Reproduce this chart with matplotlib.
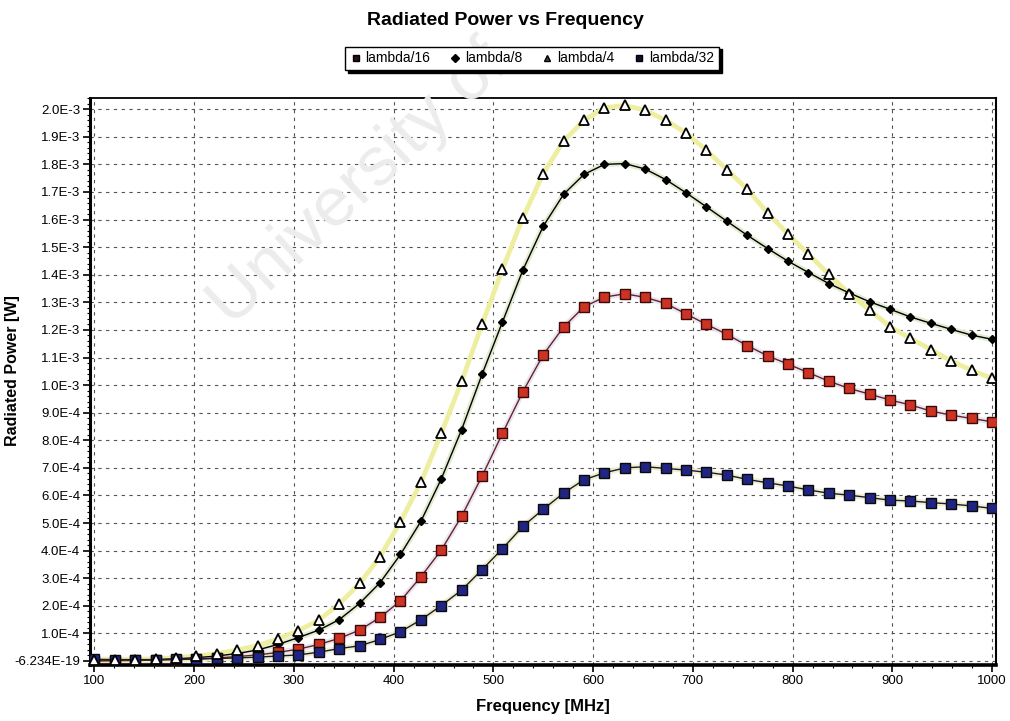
"""
radiated power vs frequency for short dipoles
"""
import numpy as np
import matplotlib
matplotlib.use("Agg")
import matplotlib.pyplot as plt
from matplotlib.lines import Line2D
from matplotlib.ticker import MultipleLocator, FuncFormatter

plt.rcParams['font.family'] = ['Liberation Sans', 'DejaVu Sans']

# 45 samples from 100 to 1000 MHz
freq = np.linspace(100, 1000, 45)

# radiated power, in units of 1E-4 W
lambda_4 = [0.02, 0.03, 0.05, 0.08, 0.12, 0.18, 0.27, 0.40, 0.56, 0.80,
            1.10, 1.48, 2.07, 2.81, 3.78, 5.05, 6.47, 8.25, 10.14, 12.20,
            14.20, 16.07, 17.67, 18.85, 19.60, 20.05, 20.14, 19.96, 19.60, 19.14,
            18.51, 17.81, 17.10, 16.24, 15.47, 14.75, 14.01, 13.32, 12.72, 12.11,
            11.69, 11.29, 10.87, 10.54, 10.24]
lambda_8 = [0.01, 0.02, 0.03, 0.05, 0.08, 0.12, 0.18, 0.27, 0.40, 0.60,
            0.85, 1.12, 1.50, 2.09, 2.84, 3.86, 5.06, 6.60, 8.39, 10.39,
            12.29, 14.17, 15.76, 16.92, 17.64, 18.00, 18.03, 17.83, 17.45, 16.97,
            16.46, 15.94, 15.43, 14.95, 14.49, 14.08, 13.68, 13.34, 13.02, 12.75,
            12.47, 12.24, 12.02, 11.81, 11.66]
lambda_16 = [0.01, 0.01, 0.02, 0.03, 0.05, 0.07, 0.11, 0.16, 0.22, 0.31,
             0.43, 0.60, 0.82, 1.12, 1.58, 2.18, 3.05, 4.02, 5.25, 6.70,
             8.25, 9.76, 11.10, 12.11, 12.84, 13.19, 13.31, 13.18, 12.96, 12.58,
             12.20, 11.84, 11.43, 11.06, 10.76, 10.45, 10.14, 9.88, 9.67, 9.46,
             9.28, 9.06, 8.91, 8.79, 8.67]
lambda_32 = [0.06, 0.05, 0.05, 0.05, 0.06, 0.07, 0.09, 0.11, 0.14, 0.18,
             0.22, 0.32, 0.45, 0.55, 0.78, 1.06, 1.49, 2.01, 2.57, 3.31,
             4.07, 4.88, 5.50, 6.09, 6.57, 6.82, 7.00, 7.04, 6.98, 6.92,
             6.84, 6.74, 6.58, 6.46, 6.34, 6.20, 6.08, 6.01, 5.92, 5.83,
             5.80, 5.74, 5.69, 5.62, 5.53]

labels = ['lambda/16', 'lambda/8', 'lambda/4', 'lambda/32']

scale = 1e-4


def y_label(v, pos):
    k = int(round(v / scale))
    if k == 0:
        return '-6.234E-19'
    if k >= 10:
        return '%.1fE-3' % (k / 10.0)
    return '%.1fE-4' % k


fig = plt.figure(figsize=(10.1, 7.21), dpi=100)
ax = fig.add_axes([0.0891, 0.0777, 0.8971, 0.7865])

# faint watermark behind everything
fig.text(0.355, 0.745, 'University of', fontsize=50, color='#ececec',
         rotation=43, ha='center', va='center', zorder=0)
ax.patch.set_alpha(0)

y4 = np.array(lambda_4) * scale
y8 = np.array(lambda_8) * scale
y16 = np.array(lambda_16) * scale
y32 = np.array(lambda_32) * scale

ax.plot(freq, y4, color='#eeeea0', lw=3.4, zorder=3)
ax.plot(freq, y4, ls='none', marker='^', ms=6.5, mfc='white', mec='black',
        mew=1.3, zorder=5)
ax.plot(freq, y8, color='#e2ecd0', lw=4, zorder=2)
ax.plot(freq, y8, color='black', lw=1.0, marker='D', ms=4.5, mfc='black',
        mec='black', zorder=4)
ax.plot(freq, y16, color='#e6e6f4', lw=4, zorder=2)
ax.plot(freq, y16, color='#6a2222', lw=1.0, marker='s', ms=7, mfc='#cc3322',
        mec='#3a0a0a', mew=1.0, zorder=4)
ax.plot(freq, y32, color='#f0f0c8', lw=4, zorder=2)
ax.plot(freq, y32, color='#1a1a40', lw=1.0, marker='s', ms=7, mfc='#1f2580',
        mec='#0a0a0a', mew=1.0, zorder=4)

ax.set_xlim(95.5, 1004)
ax.set_ylim(-1.45e-5, 2.041e-3)
ax.xaxis.set_major_locator(MultipleLocator(100))
ax.xaxis.set_minor_locator(MultipleLocator(20))
ax.yaxis.set_major_locator(MultipleLocator(scale))
ax.yaxis.set_minor_locator(MultipleLocator(scale / 5))
ax.yaxis.set_major_formatter(FuncFormatter(y_label))

ax.grid(True, which='major', color='#555555', lw=0.8, ls=(0, (3, 4)), zorder=1)
ax.tick_params(axis='both', which='major', direction='out', length=5,
               width=1.2, labelsize=9.5, pad=2)
ax.tick_params(axis='both', which='minor', direction='out', length=2.5,
               width=0.8)

ax.spines['left'].set_linewidth(2.2)
ax.spines['bottom'].set_linewidth(2.6)
ax.spines['top'].set_linewidth(1.3)
ax.spines['right'].set_linewidth(1.5)

ax.set_xlabel('Frequency [MHz]', fontsize=12, fontweight='bold', labelpad=9)
ax.set_ylabel('Radiated Power [W]', fontsize=11.5, fontweight='bold')
ax.yaxis.set_label_coords(-0.077, 0.52)
fig.suptitle('Radiated Power vs Frequency', fontsize=14, fontweight='bold',
             x=0.5, y=0.983)

handles = [
    Line2D([], [], ls='none', marker='s', ms=5, mfc='#2a1010', mec='black'),
    Line2D([], [], ls='none', marker='D', ms=4, mfc='black', mec='black'),
    Line2D([], [], ls='none', marker='^', ms=5, mfc='#444444', mec='black'),
    Line2D([], [], ls='none', marker='s', ms=5, mfc='#101030', mec='black'),
]
leg = fig.legend(handles, labels, loc='center', bbox_to_anchor=(0.527, 0.919),
                 ncol=4, fontsize=10, frameon=True, fancybox=False,
                 shadow={'color': 'black', 'alpha': 1}, handlelength=0.8,
                 handletextpad=0.3, columnspacing=1.4, borderpad=0.35,
                 edgecolor='black', framealpha=1)
leg.get_frame().set_linewidth(1.0)

fig.savefig('out.png', dpi=100)
